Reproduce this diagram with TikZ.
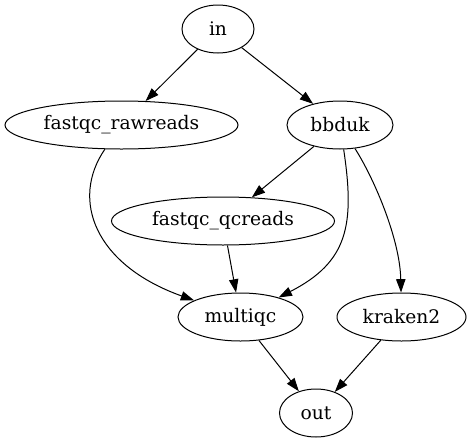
\documentclass[tikz,border=0pt]{standalone}
\usepackage{fontspec}
\setmainfont{DejaVu Serif}
\usepackage{tikz}
\usetikzlibrary{shapes.geometric, arrows.meta}

\begin{document}
\begin{tikzpicture}[x=0.75pt,y=-0.75pt,
	proc/.style={ellipse,draw,line width=0.75pt,inner sep=0pt,minimum height=36pt,font=\fontsize{14}{17}\selectfont},
	flow/.style={-{Triangle[length=10pt,width=7pt]},line width=0.75pt}]
	\useasboundingbox (0,0) rectangle (471,443);
	
	%nodes
	\node[proc,minimum width=54pt]    (in)       at (218,29)    {in};
	\node[proc,minimum width=174.75pt](rawreads) at (121.5,125) {fastqc\_rawreads};
	\node[proc,minimum width=79.5pt]  (bbduk)    at (340,125)   {bbduk};
	\node[proc,minimum width=167.25pt](qcreads)  at (223,221)   {fastqc\_qcreads};
	\node[proc,minimum width=93.75pt] (multiqc)  at (240.5,317) {multiqc};
	\node[proc,minimum width=96.75pt] (kraken2)  at (401.5,317) {kraken2};
	\node[proc,minimum width=54.75pt] (out)      at (316,413)   {out};
	
	%straight edges
	\draw[flow] (in)--(rawreads);
	\draw[flow] (in)--(bbduk);
	\draw[flow] (bbduk)--(qcreads);
	\draw[flow] (qcreads)--(multiqc);
	\draw[flow] (multiqc)--(out);
	\draw[flow] (kraken2)--(out);
	%
	%curved edges
	\draw[flow] (rawreads) .. controls (70,200) and (95,265) .. (multiqc);
	\draw[flow] (bbduk) .. controls (355,225) and (348,262) .. (multiqc);
	\draw[flow] (bbduk) .. controls (375,180) and (400,240) .. (kraken2);
	
	%\draw[help lines] (0,0) grid (471,443);
\end{tikzpicture}
\end{document}
